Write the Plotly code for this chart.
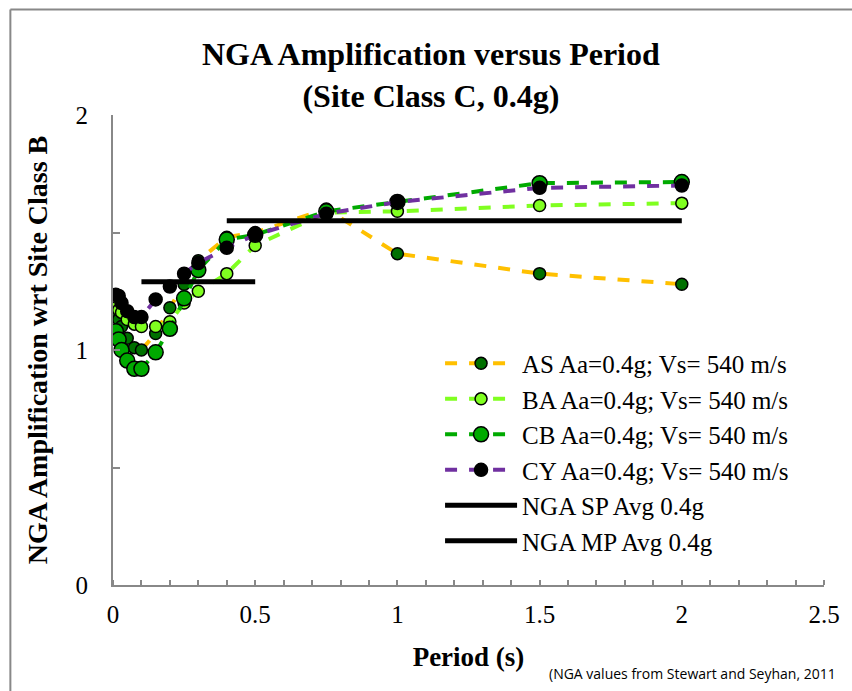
import plotly.graph_objects as go

periods = [0.01, 0.02, 0.03, 0.05, 0.075, 0.1, 0.15, 0.2, 0.25, 0.3, 0.4, 0.5, 0.75, 1.0, 1.5, 2.0]
as_vals = [1.16, 1.13, 1.10, 1.05, 1.01, 1.00, 1.07, 1.18, 1.28, 1.38, 1.48, 1.50, 1.60, 1.41, 1.325, 1.28]
ba_vals = [1.18, 1.17, 1.16, 1.13, 1.11, 1.10, 1.10, 1.12, 1.20, 1.25, 1.325, 1.445, 1.585, 1.59, 1.615, 1.625]
cb_vals = [1.08, 1.045, 1.00, 0.955, 0.92, 0.92, 0.99, 1.09, 1.22, 1.34, 1.47, 1.49, 1.59, 1.63, 1.71, 1.715]
cy_vals = [1.235, 1.23, 1.20, 1.165, 1.14, 1.14, 1.215, 1.27, 1.325, 1.37, 1.435, 1.49, 1.58, 1.63, 1.69, 1.70]

sp_x = [0.1, 0.5]
sp_y = [1.29, 1.29]
mp_x = [0.4, 2.0]
mp_y = [1.55, 1.55]

names = ["AS Aa=0.4g; Vs= 540 m/s", "BA Aa=0.4g; Vs= 540 m/s",
         "CB Aa=0.4g; Vs= 540 m/s", "CY Aa=0.4g; Vs= 540 m/s",
         "NGA SP Avg 0.4g", "NGA MP Avg 0.4g"]

y_tickvals = [0, 0.5, 1, 1.5, 2]
y_ticktext = ["0", "", "1", "", "2"]
x_tickvals = [0, 0.5, 1, 1.5, 2, 2.5]
x_ticktext = ["0", "0.5", "1", "1.5", "2", "2.5"]

fig = go.Figure()

styles = [
    (as_vals, "#FFC000", "#007000", 12),
    (ba_vals, "#80FF20", "#80FF20", 12),
    (cb_vals, "#00AA00", "#00AA00", 15),
    (cy_vals, "#7030A0", "#000000", 13),
]
for i, (vals, lc, mc, ms) in enumerate(styles):
    fig.add_trace(go.Scatter(
        x=periods, y=vals, name=names[i], mode="lines+markers",
        line=dict(color=lc, width=4, dash="dash"),
        marker=dict(color=mc, size=ms, line=dict(color="black", width=1.5)),
        legendgroup=str(i),
    ))

fig.add_trace(go.Scatter(x=sp_x, y=sp_y, name=names[4], mode="lines",
                         line=dict(color="black", width=5), legendgroup="4"))
fig.add_trace(go.Scatter(x=mp_x, y=mp_y, name=names[5], mode="lines",
                         line=dict(color="black", width=5), legendgroup="5"))

axis_font = dict(family="Liberation Serif", size=25, color="black")

fig.update_layout(
    width=852, height=691,
    margin=dict(l=113, r=22, t=115, b=106),
    paper_bgcolor="white", plot_bgcolor="white",
    showlegend=True,
    legend=dict(x=0.46, y=0.52, xanchor="left", yanchor="top",
                font=dict(family="Liberation Serif", size=25, color="black"),
                bgcolor="rgba(0,0,0,0)", tracegroupgap=0, itemwidth=72),
    xaxis=dict(range=[0, 2.5], tickvals=x_tickvals, ticktext=x_ticktext,
               showgrid=False, zeroline=False, showline=True, linecolor="#888888", linewidth=2,
               ticks="", tickfont=axis_font, ticklabelstandoff=6,
               minor=dict(dtick=0.1, ticks="inside", ticklen=5, tickcolor="#888888", tickwidth=1.5),
               title=dict(text="<b>Period (s)</b>", font=dict(family="Liberation Serif", size=27, color="black"), standoff=20)),
    yaxis=dict(range=[0, 2], tickvals=y_tickvals, ticktext=y_ticktext,
               showgrid=False, zeroline=False, showline=True, linecolor="#888888", linewidth=2,
               ticks="inside", ticklen=7, tickcolor="#888888", tickwidth=1.5, tickfont=axis_font,
               ticklabelstandoff=18,
               title=dict(text="<b>NGA Amplification wrt Site Class B</b>",
                          font=dict(family="Liberation Serif", size=28, color="black"), standoff=20)),
    annotations=[
        dict(text="<b>NGA Amplification versus Period<br>(Site Class C, 0.4g)</b>",
             xref="paper", yref="paper", x=(434 - 113) / 717, y=(585 - 75) / 470,
             xanchor="center", yanchor="middle", showarrow=False,
             font=dict(family="Liberation Serif", size=32, color="black")),
        dict(text="(NGA values from Stewart and Seyhan, 2011",
             xref="paper", yref="paper", x=(551 - 113) / 717, y=(585 - 673) / 470,
             xanchor="left", yanchor="middle", showarrow=False,
             font=dict(family="Open Sans", size=14, color="black")),
    ],
    shapes=[
        dict(type="line", xref="paper", yref="paper", x0=(9.5 - 113) / 717, x1=1.2,
             y0=(585 - 9.5) / 470, y1=(585 - 9.5) / 470, line=dict(color="#888888", width=2)),
        dict(type="line", xref="paper", yref="paper", x0=(9.5 - 113) / 717, x1=(9.5 - 113) / 717,
             y0=(585 - 9.5) / 470, y1=-0.4, line=dict(color="#888888", width=2)),
    ],
)

fig.write_html("out.html")
